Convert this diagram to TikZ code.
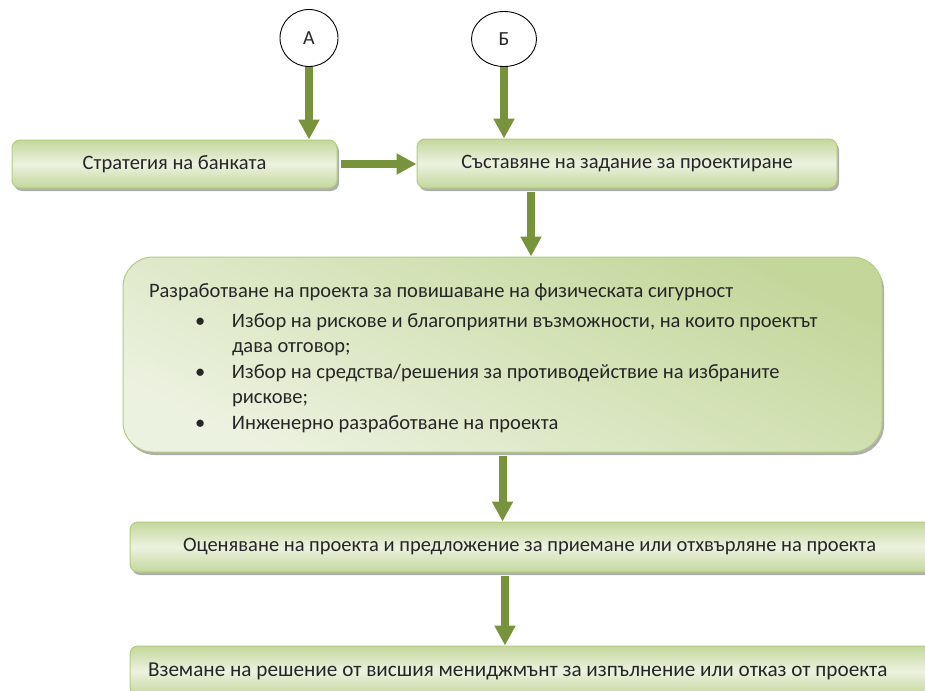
\documentclass[tikz,border=0pt]{standalone}
\usepackage{fontspec}
\setmainfont{Carlito}
\usetikzlibrary{arrows.meta,shadows,shapes.geometric}

\definecolor{arrowgreen}{RGB}{119,147,60}
\definecolor{boxdark}{RGB}{196,215,155}
\definecolor{boxlight}{RGB}{236,242,224}
\definecolor{boxline}{RGB}{178,204,128}

\tikzset{
  box/.style={draw=boxline, line width=1pt, rounded corners=8pt,
    top color=boxdark, bottom color=boxdark, middle color=boxlight,
    drop shadow={shadow xshift=2pt, shadow yshift=-3pt, fill=black!45, opacity=0.7},
    font=\fontsize{20.5}{25.5}\selectfont, text=black!85, inner sep=0pt},
  flow/.style={draw=arrowgreen, line width=8pt, -{Triangle[width=20pt,length=20pt]}},
  conn/.style={ellipse, draw, line width=0.9pt, fill=white, inner sep=0pt,
    font=\fontsize{20}{24}\selectfont, text=black!85}
}

\begin{document}
\begin{tikzpicture}[x=1pt, y=-1pt]

\clip (0, 0) rectangle (925, 690);

\draw (309, 38) node (A) [conn, minimum width=58pt, minimum height=57pt] {А};

\draw (504, 39) node (B) [conn, minimum width=65pt, minimum height=55pt] {Б};

\draw (174.5, 164) node (strat) [box, minimum width=325pt, minimum height=48pt] {Стратегия на банката};

\draw (627, 163.5) node (design) [box, minimum width=420pt, minimum height=49pt] {Съставяне на задание за проектиране};

\draw (502.5, 354.5) node (dev) [box, rounded corners=30pt, minimum height=195pt, text width=759pt, align=left,
  top color=boxdark, bottom color=boxlight, shading angle=-25] {\spaceskip=0pt\xspaceskip=0pt\relax
\hspace*{26pt}\rule{0pt}{21pt}Разработване на проекта за повишаване на физическата сигурност\\[4pt]
\hspace*{72pt}\makebox[37pt][l]{•}Избор на рискове и благоприятни възможности, на които проектът\\
\hspace*{109pt}дава отговор;\\
\hspace*{72pt}\makebox[37pt][l]{•}Избор на средства/решения за противодействие на избраните\\
\hspace*{109pt}рискове;\\
\hspace*{72pt}\makebox[37pt][l]{•}Инженерно разработване на проекта};

\draw (543, 547) node (eval) [box, minimum height=50pt, text width=720pt, inner xsep=53pt, align=left] {\spaceskip=0pt\xspaceskip=0pt\relax
Оценяване на проекта и предложение за приемане или отхвърляне на проекта};

\draw (548, 671) node (decide) [box, minimum height=50pt, text width=800pt, inner xsep=18pt, align=left,
  font=\fontsize{21.2}{25.5}\selectfont] {\spaceskip=0pt\xspaceskip=0pt\relax
Вземане на решение от висшия мениджмънт за изпълнение или отказ от проекта};

\draw[flow] (A) -- (A |- strat.north);
\draw[flow] (B) -- (B |- design.north);
\draw[flow, shorten <=3pt] (strat.east) -- (strat.east -| design.west);
\draw[flow, shorten <=3pt] ([xshift=-96pt]design.south) -- ([xshift=-96pt]design.south |- dev.north);
\draw[flow, shorten <=3pt] (dev.south) -- (dev.south |- eval.north);
\draw[flow, shorten <=3pt] ([xshift=-38pt]eval.south) -- ([xshift=-38pt]eval.south |- decide.north);

\end{tikzpicture}
\end{document}
